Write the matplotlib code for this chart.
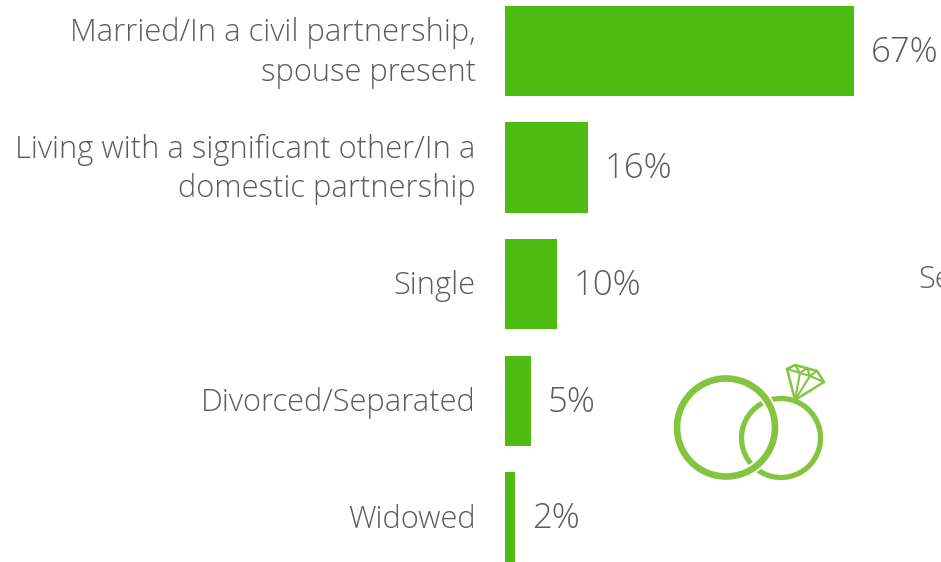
import matplotlib
matplotlib.use('Agg')
import matplotlib.pyplot as plt
from matplotlib.patches import Circle, Polygon

categories = ['Married/In a civil partnership,\nspouse present',
              'Living with a significant other/In a\ndomestic partnership',
              'Single',
              'Divorced/Separated',
              'Widowed']
values = [67, 16, 10, 5, 2]

plt.rcParams['font.family'] = ['Open Sans', 'DejaVu Sans']
grey = '#5c5c5c'
green = '#4dbb12'
icon = '#85c441'

W, H = 941, 562
fig = plt.figure(figsize=(W / 100, H / 100), dpi=100)

# bars, 5.21 px per percent starting at x=505
ax = fig.add_axes([505 / W, 0, 1 - 505 / W, 1])
ax.barh(range(len(values)), values, height=0.775, color=green)
ax.set_xlim(0, (W - 505) / 5.21)
ax.set_ylim(4 + 44.5 / 116.6, -51 / 116.6)
ax.axis('off')
for i, v in enumerate(values):
    ax.annotate('%d%%' % v, (v, i), xytext=(12, -1), textcoords='offset points',
                ha='left', va='center', fontsize=25, color=grey, fontweight='light',
                annotation_clip=False)
    ax.annotate(categories[i], (0, i), xytext=(-21, -1.5), textcoords='offset points',
                ha='right', va='center', fontsize=22.2, color=grey, linespacing=1.3,
                fontweight='light', annotation_clip=False)

# overlay in pixel coords for the rings icon
ov = fig.add_axes([0, 0, 1, 1])
ov.set_xlim(0, W)
ov.set_ylim(H, 0)
ov.axis('off')
ov.patch.set_alpha(0)

ov.add_patch(Circle((781, 438), 39.5, fill=False, ec=icon, lw=3.8))
ov.add_patch(Circle((726, 427.5), 49, fill=False, ec='white', lw=7.5))
ov.add_patch(Circle((726, 427.5), 49, fill=False, ec=icon, lw=4.8))

# diamond
outline = [(787, 369), (795, 365), (817, 371), (824, 382), (795, 400)]
ov.add_patch(Polygon(outline, closed=True, fill=False, ec=icon, lw=1.8, joinstyle='round'))
for x, y in [((787, 800), (369, 373)), ((800, 810), (373, 376)), ((810, 824), (376, 382)),
             ((795, 800), (365, 373)), ((800, 807), (373, 368)), ((807, 810), (368, 376)),
             ((810, 817), (376, 371)), ((800, 795), (373, 400)), ((810, 795), (376, 400))]:
    ov.plot(x, y, color=icon, lw=1.5)

fig.text(918 / W, 1 - 280 / H, 'Se', fontsize=22.2, color=grey, ha='left', va='center', fontweight='light')

fig.savefig('out.png', dpi=100)
